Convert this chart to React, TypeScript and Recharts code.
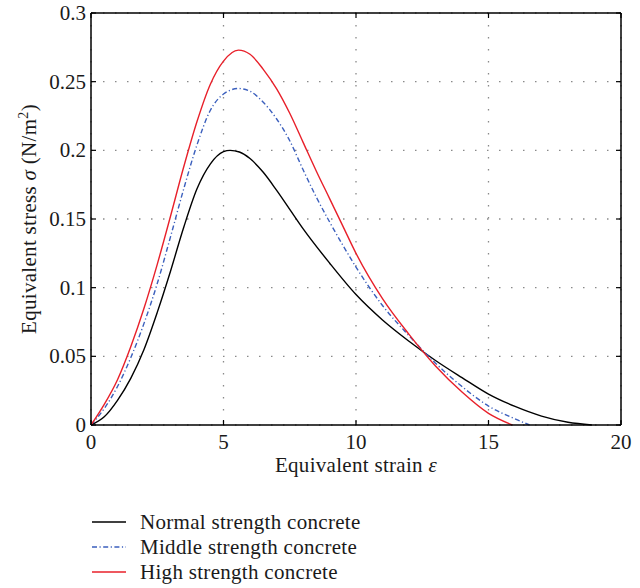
import React from 'react';
import { LineChart, Line, XAxis, YAxis, CartesianGrid, ReferenceLine } from 'recharts';

// ── Data ────────────────────────────────────────────────────────────────────

const xTicks = [0, 5, 10, 15, 20];
const yTicks = [0, 0.05, 0.1, 0.15, 0.2, 0.25, 0.3];

const normalStrain = [0, 0.5, 1, 1.5, 2, 2.5, 3, 3.5, 4, 4.5, 5, 5.25, 5.6, 6, 6.5, 7, 7.5, 8, 9, 10, 11, 12, 13, 14, 15, 16, 17, 18, 18.9];
const normalStress = [0, 0.006, 0.018, 0.034, 0.055, 0.082, 0.112, 0.144, 0.172, 0.19, 0.199, 0.2, 0.1988, 0.194, 0.184, 0.171, 0.157, 0.143, 0.118, 0.095, 0.0765, 0.061, 0.047, 0.0345, 0.0225, 0.0135, 0.0065, 0.002, 0];

const middleStrain = [0, 0.5, 1, 1.5, 2, 2.5, 3, 3.5, 4, 4.5, 5, 5.56, 6, 6.5, 7, 7.5, 8, 8.5, 9, 9.5, 10, 11, 12, 13, 14, 15, 16, 16.55];
const middleStress = [0, 0.012, 0.028, 0.049, 0.074, 0.103, 0.137, 0.172, 0.204, 0.229, 0.241, 0.245, 0.243, 0.235, 0.223, 0.207, 0.186, 0.166, 0.148, 0.131, 0.115, 0.087, 0.065, 0.045, 0.028, 0.0138, 0.0045, 0];

const highStrain = [0, 0.5, 1, 1.5, 2, 2.5, 3, 3.5, 4, 4.5, 5, 5.56, 6, 6.5, 7, 7.5, 8, 8.5, 9, 9.5, 10, 11, 12, 13, 14, 15, 15.9];
const highStress = [0, 0.015, 0.033, 0.057, 0.085, 0.117, 0.152, 0.188, 0.221, 0.248, 0.265, 0.273, 0.27, 0.259, 0.245, 0.227, 0.206, 0.185, 0.165, 0.145, 0.125, 0.092, 0.066, 0.043, 0.024, 0.0085, 0];

const zip = (xs: number[], ys: number[]) => xs.map((x, i) => ({ x, y: ys[i] }));

const series = [
  { name: 'Normal strength concrete', data: zip(normalStrain, normalStress), color: '#000000', dash: undefined },
  { name: 'Middle strength concrete', data: zip(middleStrain, middleStress), color: '#3b5fbd', dash: '5 2.5 1.2 2.5' },
  { name: 'High strength concrete', data: zip(highStrain, highStress), color: '#e8202a', dash: undefined },
];

// ── Layout ──────────────────────────────────────────────────────────────────

const W = 640;
const H = 588;
const PLOT_LEFT = 91;
const PLOT_TOP = 13;
const PLOT_RIGHT = 621;
const FONT = '"Liberation Serif", "DejaVu Serif", serif';
const FS = 21;
const TICK_LEN = 5;

function XTick({ x, y, payload }: any) {
  return (
    <g>
      <line x1={x} x2={x} y1={y} y2={y - TICK_LEN} stroke="#000" strokeWidth={1.2} />
      <line x1={x} x2={x} y1={PLOT_TOP} y2={PLOT_TOP + TICK_LEN} stroke="#000" strokeWidth={1.2} />
      <text x={x} y={y + 24} textAnchor="middle" fontSize={FS} fontFamily={FONT} fill="#1a1a1a">
        {payload.value}
      </text>
    </g>
  );
}

function YTick({ x, y, payload }: any) {
  return (
    <g>
      <line x1={x} x2={x + TICK_LEN} y1={y} y2={y} stroke="#000" strokeWidth={1.2} />
      <line x1={PLOT_RIGHT - TICK_LEN} x2={PLOT_RIGHT} y1={y} y2={y} stroke="#000" strokeWidth={1.2} />
      <text x={x - 5} y={y + 7} textAnchor="end" fontSize={FS} fontFamily={FONT} fill="#1a1a1a">
        {payload.value}
      </text>
    </g>
  );
}

function XTitle({ viewBox }: any) {
  const cx = viewBox.x + viewBox.width / 2;
  return (
    <text x={cx} y={472} textAnchor="middle" fontSize={FS} fontFamily={FONT} fill="#1a1a1a" letterSpacing={0.3}>
      Equivalent strain <tspan fontStyle="italic">ε</tspan>
    </text>
  );
}

function YTitle({ viewBox }: any) {
  const cy = viewBox.y + viewBox.height / 2;
  return (
    <text
      x={36}
      y={cy}
      transform={`rotate(-90 36 ${cy})`}
      textAnchor="middle"
      fontSize={FS}
      fontFamily={FONT}
      fill="#1a1a1a"
      letterSpacing={0.3}
    >
      Equivalent stress <tspan fontStyle="italic">σ</tspan> (N/m
      <tspan fontSize={14} dy={-8}>2</tspan>
      <tspan dy={8}>)</tspan>
    </text>
  );
}

function LegendBlock() {
  const rows = [522, 547, 572];
  return (
    <>
      {series.map((s, i) => (
        <div
          key={s.name}
          style={{
            position: 'absolute',
            left: 92,
            top: rows[i] - 13,
            height: 26,
            display: 'flex',
            alignItems: 'center',
            fontFamily: FONT,
            fontSize: FS,
            letterSpacing: 0.3,
            color: '#1a1a1a',
            whiteSpace: 'nowrap',
          }}
        >
          <svg width={48} height={6}>
            <line x1={0} x2={34} y1={3} y2={3} stroke={s.color} strokeWidth={1.5} strokeDasharray={s.dash} />
          </svg>
          <span>{s.name}</span>
        </div>
      ))}
    </>
  );
}

export default function App() {
  return (
    <div style={{ position: 'absolute', left: 0, top: 0, width: W, height: H, background: '#fff' }}>
      <LineChart width={W} height={H} margin={{ top: PLOT_TOP, right: W - PLOT_RIGHT, bottom: 103, left: 0 }}>
        <CartesianGrid stroke="#8a8a8a" strokeWidth={1.3} strokeDasharray="1.5 10.5" />
        <XAxis
          dataKey="x"
          type="number"
          domain={[0, 20]}
          ticks={xTicks}
          height={60}
          tickSize={0}
          tickMargin={0}
          tickLine={false}
          axisLine={{ stroke: '#000', strokeWidth: 1.5 }}
          tick={<XTick />}
          label={{ content: <XTitle /> }}
          allowDuplicatedCategory={false}
        />
        <YAxis
          type="number"
          domain={[0, 0.3]}
          ticks={yTicks}
          width={PLOT_LEFT}
          tickSize={0}
          tickMargin={0}
          tickLine={false}
          axisLine={{ stroke: '#000', strokeWidth: 1.5 }}
          tick={<YTick />}
          label={{ content: <YTitle /> }}
        />
        <ReferenceLine y={0.3} stroke="#000" strokeWidth={1.5} />
        <ReferenceLine x={20} stroke="#000" strokeWidth={1.5} />
        {series.map((s) => (
          <Line
            key={s.name}
            data={s.data}
            dataKey="y"
            name={s.name}
            type="monotone"
            stroke={s.color}
            strokeWidth={1.4}
            strokeDasharray={s.dash}
            dot={false}
            activeDot={false}
            isAnimationActive={false}
          />
        ))}
      </LineChart>
      <LegendBlock />
    </div>
  );
}
